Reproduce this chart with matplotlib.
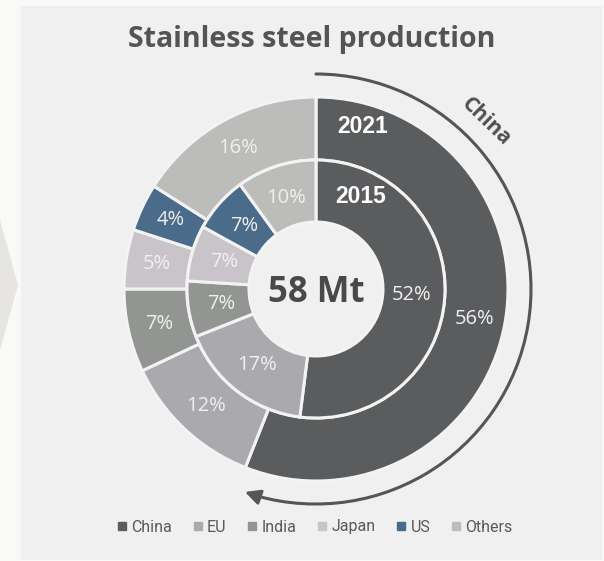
import numpy as np
import matplotlib
matplotlib.use("Agg")
import matplotlib.pyplot as plt
from matplotlib.patches import Rectangle, Polygon, FancyArrowPatch
from matplotlib.path import Path
from matplotlib.lines import Line2D

# ---- data ----
categories = ["China", "EU", "India", "Japan", "US", "Others"]
share_2021 = [56, 12, 7, 5, 4, 16]
share_2015 = [52, 17, 7, 7, 7, 10]
colors = ["#5b5c5e", "#aaa9ad", "#929592", "#c9c4c9", "#4a6b8a", "#bcbcba"]
title = "Stainless steel production"
center_label = "58 Mt"
ring_labels = ["2021", "2015"]
arrow_label = "China"

W, H = 604, 561
fig = plt.figure(figsize=(W / 100, H / 100), dpi=100)
fig.patch.set_facecolor("#f9f9f8")
ax = fig.add_axes([0, 0, 1, 1])
ax.set_facecolor("none")

def Y(y):
    return H - y

# panel and chevron
ax.add_patch(Rectangle((21, Y(560)), 602 - 21, 554, facecolor="#f0f0f0", edgecolor="none", zorder=0))
ax.add_patch(Polygon([(0, Y(220)), (18, Y(285)), (0, Y(350))], closed=True,
                     facecolor="#e6e5e2", edgecolor="none", zorder=0))

cx, cy = 316, Y(289)
R_out, R_mid, R_in = 192, 129, 67
edge = dict(edgecolor="#f3f3f3", linewidth=2.2)

pct_font = dict(family=["Open Sans", "DejaVu Sans"], fontsize=14.5, color="#f0f0f0")

ax.pie(share_2021, radius=R_out, center=(cx, cy), startangle=90, counterclock=False,
       colors=colors, wedgeprops=dict(width=R_out - R_mid, **edge),
       autopct=lambda p: f"{p:.0f}%", pctdistance=161 / R_out, textprops=pct_font)
ax.pie(share_2015, radius=R_mid, center=(cx, cy), startangle=90, counterclock=False,
       colors=colors, wedgeprops=dict(width=R_mid - R_in, **edge),
       autopct=lambda p: f"{p:.0f}%", pctdistance=96 / R_mid, textprops=pct_font)

# year labels
ax.text(363, Y(126), ring_labels[0], ha="center", va="center", fontsize=16.5,
        fontweight="bold", color="white", family="Liberation Sans")
ax.text(361, Y(196), ring_labels[1], ha="center", va="center", fontsize=16.5,
        fontweight="bold", color="white", family="Liberation Sans")

# center label
ax.text(cx, Y(293), center_label, ha="center", va="center", fontsize=25,
        fontweight="bold", color="#4a484a", family="Open Sans")

# title
ax.text(312, Y(39), title, ha="center", va="center", fontsize=20.5,
        fontweight="bold", color="#555356", family="Open Sans")

# curved arrow
R_arr = 215
arc = Path.arc(250.7, 450)
verts = arc.vertices[::-1] * R_arr + np.array([cx, cy])
path = Path(verts, arc.codes)
arrow = FancyArrowPatch(path=path, arrowstyle="-|>,head_length=0.9,head_width=0.45",
                        mutation_scale=10, color="#555555", linewidth=2.2, zorder=3)
ax.add_patch(arrow)
ax.text(486, Y(122), arrow_label, ha="center", va="center", fontsize=15,
        fontweight="bold", color="#505050", rotation=-44, family="Open Sans")

# legend
handles = [Line2D([], [], marker="s", linestyle="none", markersize=6,
                  markerfacecolor=c, markeredgecolor=c) for c in colors]
leg = fig.legend(handles, categories, loc="center", bbox_to_anchor=(315 / W, 1 - 527 / H),
                 ncol=6, frameon=False, handlelength=0.55, handletextpad=0.3,
                 columnspacing=1.35, prop=dict(family="Roboto", size=11.5))
for t in leg.get_texts():
    t.set_color("#595959")

ax.set_xlim(0, W)
ax.set_ylim(0, H)
ax.set_aspect("auto")
ax.axis("off")

fig.savefig("out.png", dpi=100, facecolor=fig.get_facecolor())
